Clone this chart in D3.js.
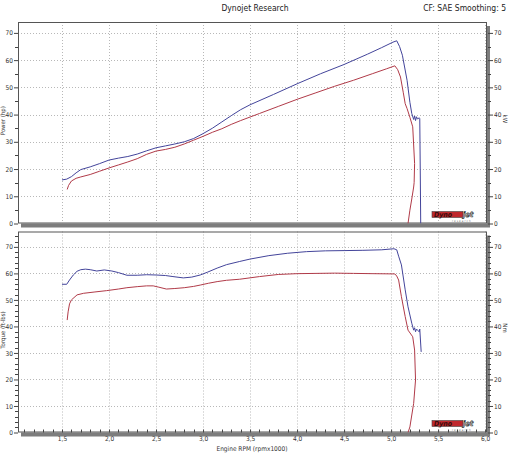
<!DOCTYPE html>
<html><head><meta charset="utf-8">
<script src="https://cdn.jsdelivr.net/npm/d3@7"></script>
<style>
body{margin:0;background:#fff;}
svg{display:block;font-family:"DejaVu Sans Condensed","DejaVu Sans",sans-serif;}
</style></head>
<body><svg id="c" width="514" height="460"></svg>
<script>
// ---- data ----
const xTicks = [1.5,2.0,2.5,3.0,3.5,4.0,4.5,5.0,5.5,6.0];
const powerTicks = [0,10,20,30,40,50,60,70];
const torqueTicks = [0,10,20,30,40,50,60,70];

const powerBlueRpm = [1.50,1.55,1.60,1.65,1.70,1.80,1.90,2.00,2.10,2.20,2.30,2.40,2.50,2.60,2.70,2.80,2.90,3.00,3.10,3.20,3.30,3.40,3.50,3.75,4.00,4.25,4.50,4.75,4.90,5.02,5.06,5.09,5.12,5.17,5.20,5.22,5.24,5.25,5.26,5.27,5.28,5.30,5.305,5.31,5.315];
const powerBlueHp  = [16.0,16.3,17.2,18.6,19.8,20.8,22.0,23.3,24.0,24.6,25.5,26.7,27.8,28.5,29.2,30.0,31.2,33.0,35.0,37.3,39.6,41.8,43.6,47.4,51.3,55.0,58.4,62.2,64.6,66.6,67.1,65.0,61.8,52.6,44.5,40.4,38.2,39.5,37.8,39.2,38.4,38.8,38.5,20.0,0];

const powerRedRpm = [1.555,1.57,1.60,1.65,1.70,1.80,1.90,2.00,2.10,2.20,2.30,2.40,2.50,2.60,2.70,2.80,2.90,3.00,3.10,3.20,3.30,3.40,3.60,3.80,4.00,4.20,4.40,4.60,4.80,4.95,5.04,5.07,5.10,5.13,5.15,5.17,5.20,5.23,5.25,5.245,5.24,5.22,5.20,5.18];
const powerRedHp  = [12.5,14.0,15.6,16.6,17.1,18.0,19.2,20.4,21.5,22.6,23.8,25.4,26.6,27.2,28.0,29.2,30.6,32.0,33.5,34.8,36.4,37.8,40.4,43.0,45.6,48.0,50.4,52.6,55.0,56.8,57.9,56.5,53.8,48.0,44.0,42.2,39.0,35.5,22.0,15.0,13.4,9.0,4.9,0];

const torqueBlueRpm = [1.50,1.55,1.58,1.62,1.66,1.70,1.75,1.80,1.87,1.95,2.03,2.10,2.19,2.30,2.40,2.50,2.60,2.68,2.79,2.88,2.97,3.05,3.15,3.25,3.39,3.50,3.70,3.90,4.10,4.30,4.50,4.70,4.90,5.03,5.06,5.08,5.11,5.15,5.18,5.22,5.24,5.25,5.26,5.27,5.28,5.30,5.305,5.32];
const torqueBlueFt  = [55.9,55.9,57.5,59.4,60.8,61.4,61.6,61.4,60.9,61.3,60.9,60.3,59.3,59.3,59.5,59.4,59.2,58.8,58.3,58.6,59.4,60.5,62.0,63.3,64.5,65.4,66.7,67.6,68.2,68.5,68.6,68.7,68.9,69.3,68.9,66.5,63.2,53.8,47.4,41.2,38.6,39.5,38.0,39.0,38.6,38.0,39.0,30.4];

const torqueRedRpm = [1.555,1.565,1.58,1.60,1.66,1.73,1.85,1.975,2.10,2.19,2.30,2.40,2.47,2.53,2.61,2.70,2.80,2.90,2.97,3.06,3.15,3.25,3.39,3.60,3.80,4.00,4.20,4.40,4.60,4.80,5.04,5.06,5.08,5.11,5.15,5.18,5.23,5.25,5.26,5.24,5.20,5.18];
const torqueRedFt  = [42.4,45.5,48.5,50.0,51.9,52.5,53.0,53.5,54.1,54.6,55.0,55.3,55.3,54.8,54.1,54.3,54.6,55.1,55.6,56.3,56.9,57.4,57.8,58.8,59.6,59.9,60.0,60.1,60.0,59.9,59.8,59.0,57.5,51.2,43.7,38.6,36.1,31.1,19.8,11.0,2.1,0];

const BLUE = "#43449a", RED = "#b03a48";

// ---- layout ----
const svg = d3.select("#c");
const X0 = 18, X1 = 487;
const x = d3.scaleLinear().domain([1.032, 6.02]).range([X0, X1]);

svg.append("text").attr("x",255).attr("y",11).attr("text-anchor","middle")
  .attr("font-size",8.5).attr("fill","#222").text("Dynojet Research");
svg.append("text").attr("x",506).attr("y",11).attr("text-anchor","end")
  .attr("font-size",8.5).attr("fill","#222").text("CF: SAE Smoothing: 5");

const panels = [
  {top:22, bottom:223.5, dmax:74, ticks:powerTicks, minorStep:5, leftLabel:"Power (hp)", rightLabel:"kW",
   series:[[powerBlueRpm,powerBlueHp,BLUE],[powerRedRpm,powerRedHp,RED]], xAxis:false},
  {top:231.5, bottom:432.5, dmax:75.8, ticks:torqueTicks, minorStep:2, leftLabel:"Torque (ft-lbs)", rightLabel:"Nm",
   series:[[torqueBlueRpm,torqueBlueFt,BLUE],[torqueRedRpm,torqueRedFt,RED]], xAxis:true}
];

panels.forEach(p => {
  const y = d3.scaleLinear().domain([0,p.dmax]).range([p.bottom,p.top]);
  const g = svg.append("g");
  // shadow
  g.append("rect").attr("x",X0+3).attr("y",p.top+4).attr("width",X1-X0).attr("height",p.bottom-p.top)
    .attr("fill","#7d7d7d");
  g.append("rect").attr("x",X0).attr("y",p.top).attr("width",X1-X0).attr("height",p.bottom-p.top)
    .attr("fill","#fff");
  // grid
  g.selectAll(".hg").data(p.ticks.filter(d=>d>0)).join("line")
    .attr("x1",X0).attr("x2",X1).attr("y1",d=>Math.round(y(d))+0.5).attr("y2",d=>Math.round(y(d))+0.5)
    .attr("stroke","#b8b8b8").attr("stroke-width",1).attr("stroke-dasharray","1,2");
  g.selectAll(".vg").data(xTicks).join("line")
    .attr("x1",d=>Math.round(x(d))+0.5).attr("x2",d=>Math.round(x(d))+0.5).attr("y1",p.top).attr("y2",p.bottom)
    .attr("stroke","#b8b8b8").attr("stroke-width",1).attr("stroke-dasharray","1,2");
  // border
  g.append("rect").attr("x",X0+0.5).attr("y",p.top+0.5).attr("width",X1-X0-1).attr("height",p.bottom-p.top-1)
    .attr("fill","none").attr("stroke","#555");

  // left axis
  const minors = d3.range(0, p.dmax+0.001, p.minorStep).filter(v => !p.ticks.includes(v));
  const la = g.append("g").attr("transform",`translate(${X0},0)`)
    .call(d3.axisLeft(y).tickValues(p.ticks).tickSize(4).tickPadding(1).tickFormat(d3.format("d")));
  la.select(".domain").remove();
  la.selectAll("text").attr("font-size",6.5).attr("fill","#333").attr("font-family","DejaVu Sans Condensed, DejaVu Sans");
  la.selectAll("line").attr("stroke","#444");
  g.selectAll(".lm").data(minors).join("line")
    .attr("x1",X0-3).attr("x2",X0).attr("y1",d=>Math.round(y(d))+0.5).attr("y2",d=>Math.round(y(d))+0.5).attr("stroke","#444");

  // right axis
  const ra = g.append("g").attr("transform",`translate(${X1+1},0)`)
    .call(d3.axisRight(y).tickValues(p.ticks).tickSize(5).tickPadding(1).tickFormat(d3.format("d")));
  ra.select(".domain").remove();
  ra.selectAll("text").attr("font-size",6.5).attr("fill","#333").attr("font-family","DejaVu Sans Condensed, DejaVu Sans");
  ra.selectAll("line").attr("stroke","#444");
  g.selectAll(".rm").data(minors).join("line")
    .attr("x1",X1+1).attr("x2",X1+4).attr("y1",d=>Math.round(y(d))+0.5).attr("y2",d=>Math.round(y(d))+0.5).attr("stroke","#444");

  // axis titles
  const cy = (p.top+p.bottom)/2;
  g.append("text").attr("transform",`translate(5,${cy-2}) rotate(-90)`).attr("text-anchor","middle")
    .attr("font-size",6).attr("fill","#333").text(p.leftLabel);
  g.append("text").attr("transform",`translate(503,${cy-4}) rotate(90)`).attr("text-anchor","middle")
    .attr("font-size",6).attr("fill","#333").text(p.rightLabel);

  // lines
  const clipId = "clip"+p.top;
  svg.append("clipPath").attr("id",clipId).append("rect")
    .attr("x",X0).attr("y",p.top).attr("width",X1-X0).attr("height",p.bottom-p.top);
  p.series.forEach(([xs,ys,col]) => {
    const pts = xs.map((v,i)=>[v,ys[i]]);
    g.append("path").datum(pts).attr("clip-path",`url(#${clipId})`)
      .attr("d", d3.line().x(d=>x(d[0])).y(d=>y(d[1])))
      .attr("fill","none").attr("stroke",col).attr("stroke-width",1);
  });

  // logo
  const lg = g.append("g").attr("transform",`translate(432,${p.bottom-5})`);
  lg.append("rect").attr("x",0).attr("y",-7).attr("width",31).attr("height",6).attr("fill","#c0282d").attr("stroke","#444").attr("stroke-width",0.6);
  lg.append("text").attr("x",2).attr("y",-2).attr("font-size",7).attr("font-weight","bold").attr("font-style","italic")
    .attr("fill","#3a0b0b").text("Dyno");
  lg.append("text").attr("x",31).attr("y",-2).attr("font-size",7.5).attr("font-weight","bold").attr("font-style","italic")
    .attr("fill","#fff").attr("stroke","#333").attr("stroke-width",0.6).text("jet");
  lg.append("text").attr("x",20).attr("y",3).attr("font-size",3).attr("fill","#777").attr("letter-spacing",1).text("research");

  if (p.xAxis) {
    const xa = g.append("g").attr("transform",`translate(0,${p.bottom})`)
      .call(d3.axisBottom(x).tickValues(xTicks).tickSize(-3).tickPadding(3.5)
        .tickFormat(d => d3.format(".1f")(d).replace(".", ",")));
    xa.select(".domain").remove();
    xa.selectAll("text").attr("font-size",6.5).attr("fill","#333").attr("font-family","DejaVu Sans Condensed, DejaVu Sans");
    xa.selectAll("line").attr("stroke","#444");
    const xm = d3.range(11, 60).map(v=>v/10).filter(v => Math.abs(v*2-Math.round(v*2))>1e-6);
    g.selectAll(".xm").data(xm).join("line")
      .attr("x1",d=>Math.round(x(d))+0.5).attr("x2",d=>Math.round(x(d))+0.5)
      .attr("y1",p.bottom-3).attr("y2",p.bottom).attr("stroke","#444");
    g.append("text").attr("x",252).attr("y",450.5).attr("text-anchor","middle")
      .attr("font-size",6.5).attr("fill","#333").text("Engine RPM (rpmx1000)");
  }
});
</script></body></html>
